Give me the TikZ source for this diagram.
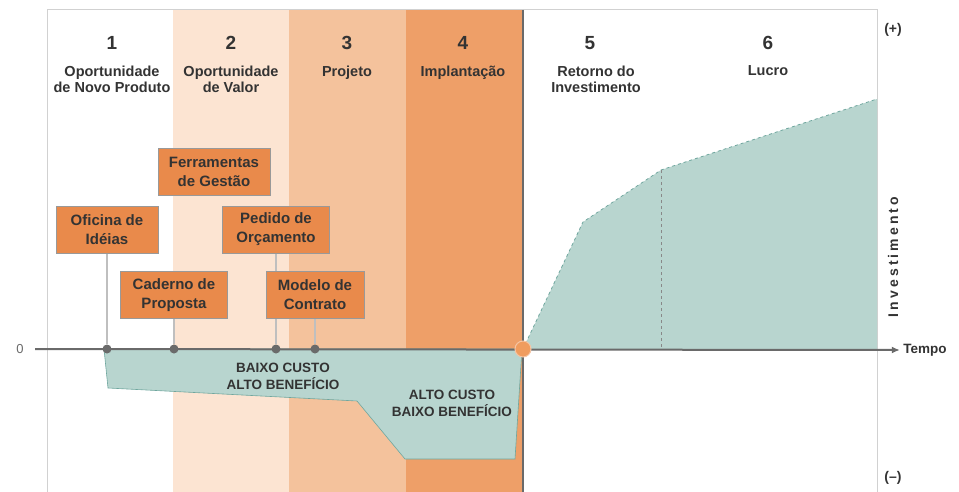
\documentclass[tikz,border=0pt]{standalone}
\usepackage{fontspec}
\setmainfont{Liberation Sans}
\newfontfamily\espacado[LetterSpace=22]{Liberation Sans}
\usetikzlibrary{arrows.meta}
\definecolor{fase2}{HTML}{FCE4D2}
\definecolor{fase3}{HTML}{F4C29C}
\definecolor{fase4}{HTML}{EE9F68}
\definecolor{caixa}{HTML}{E98A4B}
\definecolor{verde}{HTML}{B8D5CF}
\definecolor{verdeesc}{HTML}{6FA69E}
\definecolor{eixo}{HTML}{6A6A6A}
\definecolor{texto}{HTML}{333333}

\begin{document}
\begin{tikzpicture}[x=1pt,y=-1pt,
  every node/.style={text=texto, font=\bfseries},
  numero/.style={font=\bfseries\fontsize{19}{20}\selectfont},
  fase/.style={anchor=north, align=center, font=\bfseries\fontsize{14.5}{16}\selectfont},
  caixa/.style={draw=black!40, fill=caixa, align=center, minimum height=47pt,
    inner sep=2pt, font=\bfseries\fontsize{15}{19}\selectfont},
  ponto/.style={circle, fill=eixo, inner sep=0pt, minimum size=9pt},
  haste/.style={draw=black!25, line width=1.2pt},
  nota/.style={align=center, font=\bfseries\fontsize{13.5}{17}\selectfont}]
  \useasboundingbox (0,0) rectangle (959,492);

  % fases
  \fill[fase2] (173,10) rectangle (289,492);
  \fill[fase3] (289,10) rectangle (406,492);
  \fill[fase4] (406,10) rectangle (523,492);
  \draw[black!18, line width=1pt] (47,492) -- (47,10) -- (877,10) -- (877,492);
  \draw[eixo, line width=2pt] (523,10) -- (523,492);

  \node[numero] (n1) at (112,43) {1};
  \node[numero] (n2) at (231,43) {2};
  \node[numero] (n3) at (347,43) {3};
  \node[numero] (n4) at (463,43) {4};
  \node[numero] (n5) at (590,43) {5};
  \node[numero] (n6) at (768,43) {6};
  \node[fase] (f1) at (112,62) {Oportunidade\\de Novo Produto};
  \node[fase] (f2) at (231,62) {Oportunidade\\de Valor};
  \node[fase] (f3) at (347,62) {Projeto};
  \node[fase] (f4) at (463,62) {Implantação};
  \node[fase] (f5) at (596,62) {Retorno do\\Investimento};
  \node[fase] (f6) at (768,62) {Lucro};

  % areas
  \fill[verde, draw=verdeesc, line width=.6pt]
    (104,349) -- (108,388) -- (357,401) -- (405,459) -- (515,459) -- (522,349) -- cycle;
  \fill[verde] (523,349) -- (583,222) -- (661,170) -- (877,99) -- (877,349) -- cycle;
  \draw[verdeesc, dashed, line width=.8pt] (523,349) -- (583,222) -- (661,170) -- (877,99);
  \draw[eixo!80, dashed, line width=.8pt] (661,170) -- (661,349);

  \node[nota] (bc) at (283,376) {BAIXO CUSTO\\ALTO BENEFÍCIO};
  \node[nota] (ac) at (452,403) {ALTO CUSTO\\BAIXO BENEFÍCIO};

  % eixo
  \node[font=\fontsize{13}{14}\selectfont, text=eixo] (zero) at (20,349) {0};
  \node[font=\bfseries\fontsize{13.5}{14}\selectfont] (tempo) at (925,350) {Tempo};
  \draw[eixo, line width=2pt, -{Latex[length=8pt,width=7pt]}] (zero.east) ++(8,0) -- (tempo.west);
  \node[font=\bfseries\fontsize{14}{15}\selectfont] (mais) at (893,30) {(+)};
  \node[font=\bfseries\fontsize{14}{15}\selectfont] (menos) at (893,478) {(--)};
  \node[rotate=90, font=\espacado\bfseries\fontsize{14}{15}\selectfont] (inv) at (893,257) {Investimento};

  \node[ponto] (p1) at (107,349) {};
  \node[ponto] (p2) at (174,349) {};
  \node[ponto] (p3) at (276,349) {};
  \node[ponto] (p4) at (315,349) {};
  \node[circle, fill=fase4!90!orange, draw=fase4!60, line width=1pt,
    inner sep=0pt, minimum size=16pt] (marco) at (523,349) {};

  % ferramentas
  \draw[haste] (107,253) -- (p1);
  \draw[haste] (174,319) -- (p2);
  \draw[haste] (276,253) -- (p3);
  \draw[haste] (315,319) -- (p4);
  \node[caixa, minimum width=112pt] (ferr) at (214,172) {Ferramentas\\de Gestão};
  \node[caixa, minimum width=102pt] (ofic) at (107,229.5) {Oficina de\\Idéias};
  \node[caixa, minimum width=107pt] (ped) at (276,229.5) {Pedido de\\Orçamento};
  \node[caixa, minimum width=107pt] (cad) at (174,295) {Caderno de\\Proposta};
  \node[caixa, minimum width=98pt] (mod) at (315,295) {Modelo de\\Contrato};
\end{tikzpicture}
\end{document}
